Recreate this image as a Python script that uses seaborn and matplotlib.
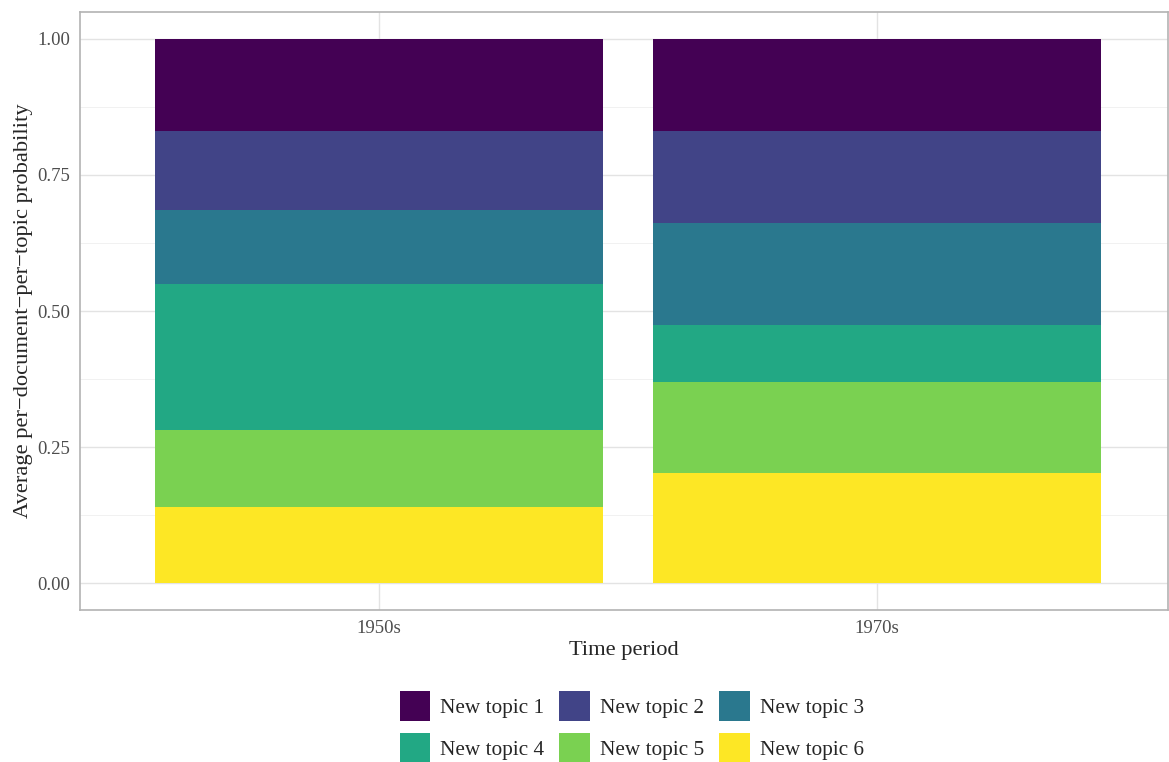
import numpy as np
import pandas as pd
import seaborn as sns
import matplotlib.pyplot as plt
from matplotlib.patches import Patch

periods = ['1950s', '1970s']
topics = ['New topic 1', 'New topic 2', 'New topic 3',
          'New topic 4', 'New topic 5', 'New topic 6']

# average per-document-per-topic probability, [1950s, 1970s]
topic_1 = [0.169, 0.169]
topic_2 = [0.145, 0.169]
topic_3 = [0.136, 0.188]
topic_4 = [0.268, 0.105]
topic_5 = [0.142, 0.167]
topic_6 = [0.140, 0.202]

colors = ['#440154', '#414487', '#2A788E', '#22A884', '#7AD151', '#FDE725']

df = pd.DataFrame({
    'period': np.repeat(periods, len(topics)),
    'topic': topics * len(periods),
    'prob': [v for i in range(len(periods))
             for v in (topic_1[i], topic_2[i], topic_3[i], topic_4[i], topic_5[i], topic_6[i])],
})
df['topic'] = pd.Categorical(df['topic'], categories=topics, ordered=True)
df = df.sort_values(['period', 'topic'], ascending=[True, False])
# stack bottom-up: topic 6 at the base, topic 1 on top
df['top'] = df.groupby('period')['prob'].cumsum()

sns.set_style('white')
plt.rcParams['font.family'] = ['Liberation Serif', 'DejaVu Serif']

fig = plt.figure(figsize=(11.69, 7.62), dpi=100)
ax = fig.add_axes([80 / 1169, 1 - 610 / 762, 1088 / 1169, 598 / 762])

# draw tallest layer first so each lower layer paints over it
for topic, color in zip(topics, colors):
    layer = df[df['topic'] == topic]
    sns.barplot(data=layer, x='period', y='top', order=periods, color=color,
                saturation=1, width=0.9, errorbar=None, linewidth=0, ax=ax)

ax.set_xlim(-0.6, 1.585)
ax.set_ylim(-0.0496, 1.0496)
ax.set_yticks([0, 0.25, 0.5, 0.75, 1.0])
ax.set_yticklabels(['0.00', '0.25', '0.50', '0.75', '1.00'])
ax.set_yticks([0.125, 0.375, 0.625, 0.875], minor=True)

ax.set_axisbelow(True)
ax.grid(True, which='major', axis='both', color='#e3e3e3', linewidth=1.0)
ax.grid(True, which='minor', axis='y', color='#efefef', linewidth=0.6)

for s in ax.spines.values():
    s.set_visible(True)
    s.set_color('#b3b3b3')
    s.set_linewidth(1.2)

ax.tick_params(axis='both', which='major', length=4, width=0.8, color='#b3b3b3',
               labelsize=13.5, labelcolor='#4d4d4d', pad=3)
ax.tick_params(axis='y', which='minor', length=0)

ax.set_xlabel('Time period', fontsize=16.2, labelpad=3)
ax.set_ylabel('Average per\u2212document\u2212per\u2212topic probability', fontsize=16.2, labelpad=3)

handles = [Patch(facecolor=c, edgecolor='none', label=t) for t, c in zip(topics, colors)]
# matplotlib fills legend columns first; reorder so rows read 1-2-3 / 4-5-6
order = [0, 3, 1, 4, 2, 5]
fig.legend(handles=[handles[i] for i in order], loc='center', ncol=3, frameon=False,
           fontsize=15.3, bbox_to_anchor=(632 / 1169, 1 - 727 / 762),
           handlelength=1.42, handleheight=1.8, handletextpad=0.5,
           columnspacing=0.7, labelspacing=0.55)

fig.savefig('out.png', dpi=100)
